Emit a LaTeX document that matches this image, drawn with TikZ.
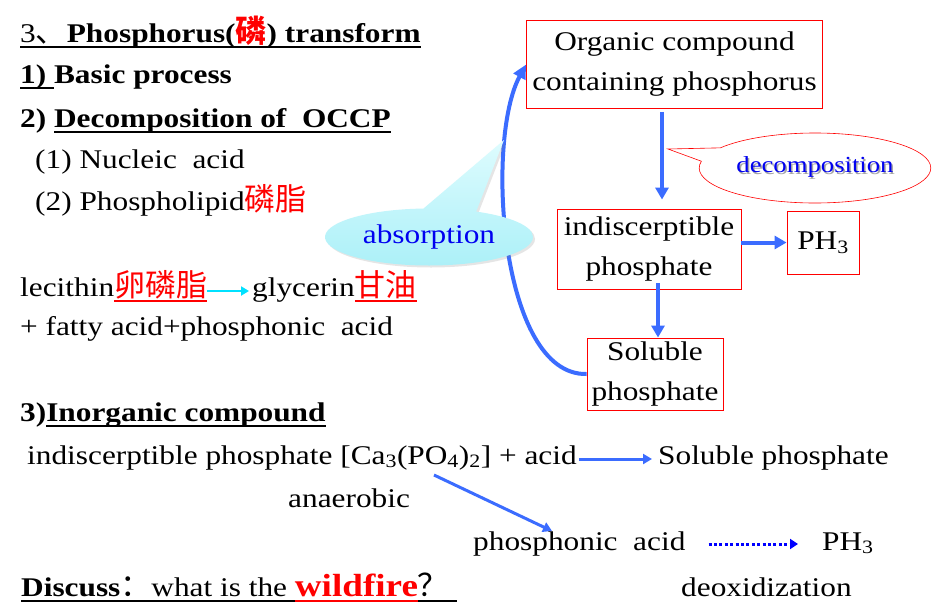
\documentclass[tikz,border=0pt]{standalone}
\usepackage{fontspec}
\setmainfont{Liberation Serif}[FakeStretch=1.16]
\newfontfamily\cjk{Noto Sans CJK SC}
\usetikzlibrary{arrows.meta,shapes.callouts,shadows}

\definecolor{pptblue}{RGB}{59,108,255}
\definecolor{txtblue}{RGB}{0,0,240}
\definecolor{pptred}{RGB}{255,0,0}
\definecolor{cyanlight}{RGB}{222,252,254}
\definecolor{cyandark}{RGB}{172,240,248}
\definecolor{arrowcyan}{RGB}{0,225,255}

% underline with a fixed depth and thickness
\newcommand\undl[1]{\setbox0\hbox{#1}\rlap{\rule[-5.5pt]{\wd0}{1.8pt}}\box0}
\newcommand\zh[1]{{\cjk\fontsize{31}{40}\selectfont #1}}
\newcommand\shadowtxt[1]{\rlap{\color{black!35}\hspace{1.5pt}\raisebox{-1.5pt}{#1}}#1}

\tikzset{
  txt/.style={inner sep=0pt, anchor=base west},
  redbox/.style={draw=pptred, line width=0.9pt, inner sep=0pt, align=center},
  bluearrow/.style={draw=pptblue, line width=4pt, -{Triangle[length=12pt,width=13pt]}},
  thinarrow/.style={draw=pptblue, line width=3pt, -{Triangle[length=9pt,width=10pt]}},
  cyanarrow/.style={draw=arrowcyan, line width=2.5pt, -{Triangle[length=8pt,width=9pt]}},
  dotarrow/.style={draw=blue, line width=3pt, dash pattern=on 3pt off 2.4pt, -{Triangle[length=8pt,width=10pt]}}
}

\begin{document}
\begin{tikzpicture}[x=1pt,y=-1pt, every node/.style={font=\fontsize{27}{40}\selectfont}]
\fill[white] (0,0) rectangle (932,611);
\useasboundingbox (0,0) rectangle (932,611);

% left column
\node[txt] (title) at (20,42) {\undl{3\zh{、}\textbf{Phosphorus(\textcolor{pptred}{\zh{磷}})\ transform}}};
\node[txt] (basic) at (20,83) {\textbf{\undl{1)\ }Basic process}};
\node[txt] (decomp) at (20,127) {\textbf{2) \undl{Decomposition of\ \ OCCP}}};
\node[txt] (nucleic) at (35,168) {(1) Nucleic\ \ acid};
\node[txt] (lipid) at (35,210) {(2) Phospholipid\textcolor{pptred}{\zh{磷脂}}};

\node[txt] (lec) at (20,296) {lecithin\textcolor{pptred}{\undl{\zh{卵磷脂}}}};
\node[txt] (gly) at (252,296) {glycerin\textcolor{pptred}{\undl{\zh{甘油}}}};
\draw[cyanarrow] ([yshift=5pt]lec.base east) -- ([xshift=-3pt,yshift=5pt]gly.base west);
\node[txt] (fatty) at (20,335) {+ fatty acid+phosphonic\ \ acid};

% right diagram
\node[redbox, minimum width=296pt, minimum height=88pt] (organic) at (674.5,64.5) {Organic compound\\containing phosphorus};
\node[redbox, minimum width=184pt, minimum height=80pt] (indisc) at (649,249) {indiscerptible\\phosphate};
\node[redbox, minimum width=72pt, minimum height=63pt] (ph3) at (823,242.5) {PH\textsubscript{3}};
\node[redbox, minimum width=136pt, minimum height=72pt] (soluble) at (655,374) {Soluble\\phosphate};

\draw[bluearrow] ([xshift=-12.5pt,yshift=-3pt]organic.south) -- ([xshift=13pt,yshift=9pt]indisc.north);
\draw[bluearrow] ([yshift=6.5pt]indisc.east) -- (ph3.west);
\draw[bluearrow] ([xshift=9pt,yshift=6pt]indisc.south) -- ([xshift=3pt]soluble.north);
\draw[bluearrow, -{Triangle[length=14pt,width=13pt]}] (soluble.west) .. controls (500,376) and (485,140) .. (organic.west);

\node[ellipse callout, callout absolute pointer={(504,140)}, callout pointer arc=30,
  minimum width=208pt, minimum height=57pt, top color=cyanlight, bottom color=cyandark,
  draw=none, text=txtblue, drop shadow={opacity=0.2, shadow xshift=2pt, shadow yshift=-2pt}]
  (absorb) at (429,237) {absorption};
\node[ellipse callout, callout absolute pointer={(668,149)}, callout pointer arc=24,
  minimum width=228pt, minimum height=70pt, draw=pptred, line width=0.6pt, fill=white,
  text=txtblue, font=\fontsize{23}{28}\selectfont]
  (declbl) at (815,168) {\shadowtxt{decomposition}};

% inorganic part
\node[txt] (inorg) at (20,421) {\textbf{3)\undl{Inorganic compound}}};
\node[txt] (ind) at (27,464) {indiscerptible phosphate [Ca\textsubscript{3}(PO\textsubscript{4})\textsubscript{2}] + acid};
\node[txt] (sol) at (658,464) {Soluble phosphate};
\draw[thinarrow] ([xshift=2pt,yshift=5pt]ind.base east) -- ([xshift=-6pt,yshift=5pt]sol.base west);
\node[txt] (ana) at (288,507) {anaerobic};
\coordinate (castart) at (434,475);
\coordinate (photip) at (552,531);
\draw[thinarrow] (castart) -- (photip);
\node[txt] (pho) at (473,550) {phosphonic\ \ acid};
\node[txt] (phb) at (822,550) {PH\textsubscript{3}};
\draw[dotarrow] ([xshift=23pt,yshift=6pt]pho.base east) -- ([xshift=-24pt,yshift=6pt]phb.base west);

\node[txt] (disc) at (21,596) {\undl{\textbf{Discuss}\zh{：}what is the \textcolor{pptred}{\undl{\fontsize{32}{40}\selectfont\textbf{wildfire}}}\zh{？}\ }};
\node[txt] (deox) at (681,596) {deoxidization};

\end{tikzpicture}
\end{document}
